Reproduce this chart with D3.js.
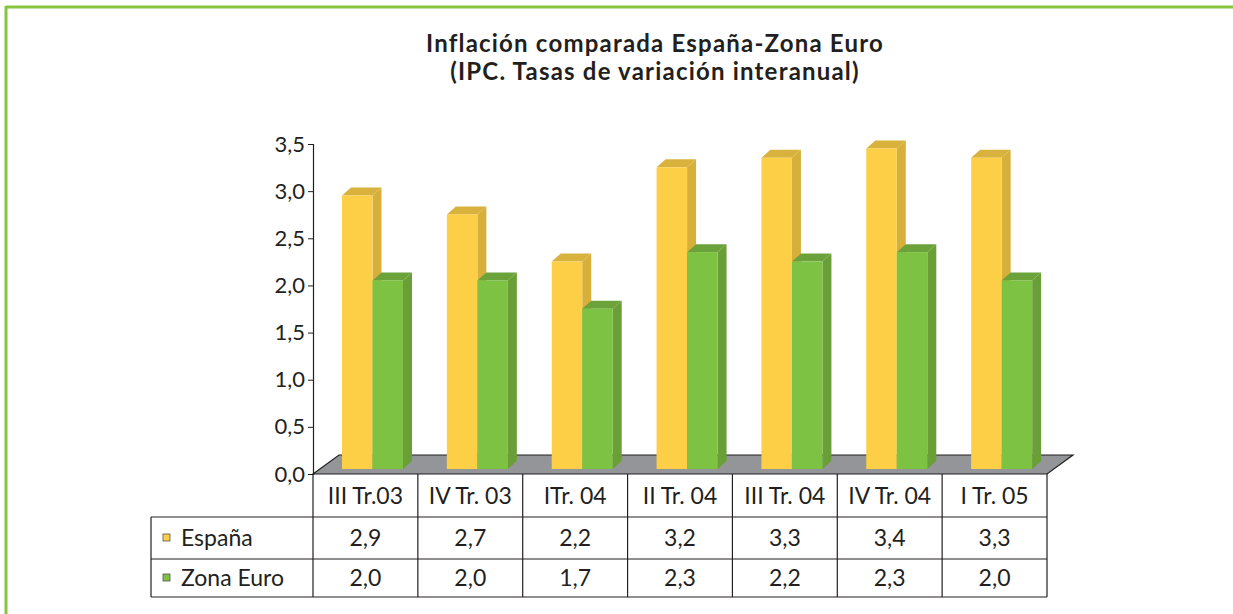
<!DOCTYPE html>
<html>
<head>
<meta charset="utf-8">
<script src="https://cdn.jsdelivr.net/npm/d3@7"></script>
<style>
  body { margin: 0; background: #fff; }
  text { font-family: Lato, "Open Sans", sans-serif; fill: #231f20; }
</style>
</head>
<body>
<svg id="chart" width="1233" height="614"></svg>
<script>
// data
var categories = ["III Tr.03", "IV Tr. 03", "ITr. 04", "II Tr. 04", "III Tr. 04", "IV Tr. 04", "I Tr. 05"];
var espana = [2.9, 2.7, 2.2, 3.2, 3.3, 3.4, 3.3];
var zonaEuro = [2.0, 2.0, 1.7, 2.3, 2.2, 2.3, 2.0];
var seriesNames = ["España", "Zona Euro"];
var yTicks = [0, 0.5, 1, 1.5, 2, 2.5, 3, 3.5];

var svg = d3.select("#chart");
var fmt = function(v){ return d3.format(".1f")(v).replace(".", ","); };

// green frame
svg.append("line").attr("x1", 6).attr("y1", 7).attr("x2", 1233).attr("y2", 7)
   .style("stroke", "#86c540").style("stroke-width", 3);
svg.append("line").attr("x1", 6).attr("y1", 6).attr("x2", 6).attr("y2", 614)
   .style("stroke", "#86c540").style("stroke-width", 3);

// title (two separate lines)
svg.append("text").attr("x", 655).attr("y", 52).attr("text-anchor", "middle")
   .style("font-weight", "bold").style("font-size", "24px").style("letter-spacing", "1.2px")
   .text("Inflación comparada España-Zona Euro");
svg.append("text").attr("x", 655).attr("y", 80).attr("text-anchor", "middle")
   .style("font-weight", "bold").style("font-size", "24px").style("letter-spacing", "1.2px")
   .text("(IPC. Tasas de variación interanual)");

var left = 313, right = 1047;
var x = d3.scaleBand().domain(categories).range([left, right]);
var y = d3.scaleLinear().domain([0, 3.5]).range([474, 144]);

// floor (3d base)
var fdx = 26, fdy = -19;
svg.append("path")
   .attr("d", "M" + left + "," + y(0) + "L" + (left + fdx) + "," + (y(0) + fdy) +
              "L" + (right + fdx) + "," + (y(0) + fdy) + "L" + right + "," + y(0) + "Z")
   .style("fill", "#939598").style("stroke", "#231f20").style("stroke-width", 1.2);

// y axis
var yAxis = d3.axisLeft(y).tickValues(yTicks).tickSize(5).tickFormat(fmt);
var ga = svg.append("g").attr("transform", "translate(" + left + ",0)").call(yAxis);
ga.select(".domain").style("stroke", "#231f20").style("stroke-width", 1.2);
ga.selectAll(".tick line").style("stroke", "#231f20");
ga.selectAll(".tick text").attr("x", -8).attr("dy", "0.32em")
   .style("font-size", "22px").style("font-family", "Lato, sans-serif").style("fill", "#231f20");

// bars
var bw = 30.5, off = 29, bdx = 9, bdy = -8, lift = -5;
var series = [
  { name: seriesNames[0], values: espana, front: "#fdcf46", side: "#d7b03c", top: "#d9b23e" },
  { name: seriesNames[1], values: zonaEuro, front: "#7dc242", side: "#6a9f37", top: "#6ba23a" }
];
var bars = svg.append("g");
categories.forEach(function(c, i){
  series.forEach(function(s, k){
    var x0 = x(c) + off + k * bw, x1 = x0 + bw;
    var yb = y(0) + lift, yt = y(s.values[i]) + lift;
    bars.append("path")
       .attr("d", "M" + x1 + "," + yb + "L" + (x1 + bdx) + "," + (yb + bdy) + "L" + (x1 + bdx) + "," + (yt + bdy) + "L" + x1 + "," + yt + "Z")
       .style("fill", s.side);
    bars.append("path")
       .attr("d", "M" + x0 + "," + yt + "L" + (x0 + bdx) + "," + (yt + bdy) + "L" + (x1 + bdx) + "," + (yt + bdy) + "L" + x1 + "," + yt + "Z")
       .style("fill", s.top);
    bars.append("rect").attr("x", x0).attr("y", yt).attr("width", bw).attr("height", yb - yt)
       .style("fill", s.front);
  });
});

// data table
var rowY = [474, 517, 559, 597];
var tableLeft = 151;
var tbl = svg.append("g").style("stroke", "#231f20").style("stroke-width", 1.2);
// horizontal lines
tbl.append("line").attr("x1", tableLeft).attr("x2", right).attr("y1", rowY[1]).attr("y2", rowY[1]);
tbl.append("line").attr("x1", tableLeft).attr("x2", right).attr("y1", rowY[2]).attr("y2", rowY[2]);
tbl.append("line").attr("x1", tableLeft).attr("x2", right).attr("y1", rowY[3]).attr("y2", rowY[3]);
// vertical lines
tbl.append("line").attr("x1", tableLeft).attr("x2", tableLeft).attr("y1", rowY[1]).attr("y2", rowY[3]);
categories.forEach(function(c){
  tbl.append("line").attr("x1", x(c)).attr("x2", x(c)).attr("y1", rowY[0]).attr("y2", rowY[3]);
});
tbl.append("line").attr("x1", right).attr("x2", right).attr("y1", rowY[0]).attr("y2", rowY[3]);

var txt = svg.append("g").style("font-size", "23px");
txt.selectAll(".cat").data(categories).enter().append("text")
   .attr("x", function(d){ return x(d) + x.bandwidth() / 2; })
   .attr("y", 504).attr("text-anchor", "middle").text(function(d){ return d; });

[espana, zonaEuro].forEach(function(vals, k){
  var yy = (rowY[k + 1] + rowY[k + 2]) / 2;
  txt.selectAll(".v" + k).data(vals).enter().append("text")
     .attr("x", function(d, i){ return x(categories[i]) + x.bandwidth() / 2; })
     .attr("y", yy).attr("dy", "0.35em").attr("text-anchor", "middle").text(fmt);
  svg.append("rect").attr("x", 163).attr("y", yy - 4).attr("width", 7).attr("height", 7)
     .style("fill", series[k].front).style("stroke", "#555").style("stroke-width", 0.8);
  txt.append("text").attr("x", 181).attr("y", yy).attr("dy", "0.35em").text(seriesNames[k]);
});
</script>
</body>
</html>
